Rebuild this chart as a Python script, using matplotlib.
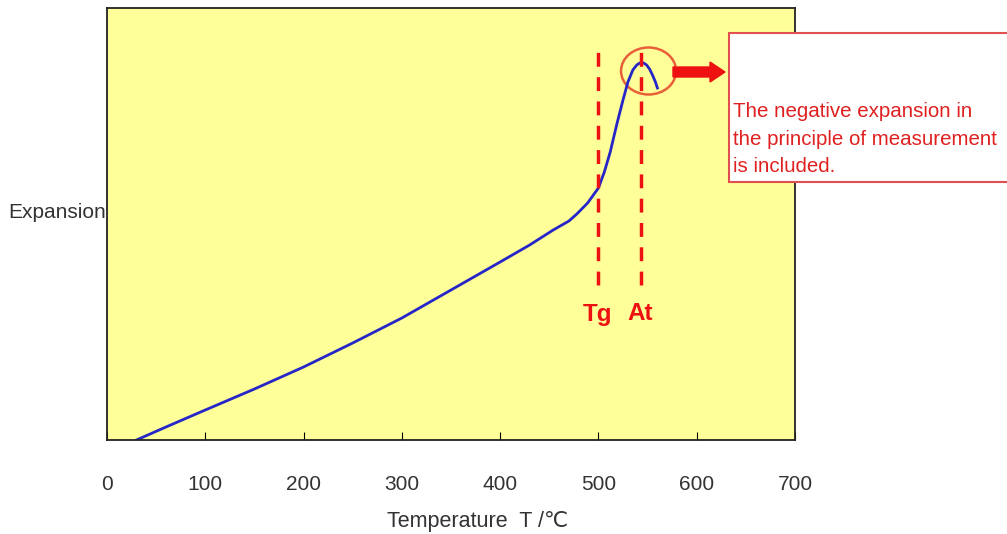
import matplotlib.pyplot as plt
import matplotlib.patches as mpatches

# curve (expansion in arbitrary units)
temp = [30, 60, 100, 150, 200, 250, 300, 350, 400, 430, 454, 470, 478, 489, 500,
        506, 512, 519, 525, 530, 535, 539, 542, 546, 549, 552, 555, 558, 560]
expansion = [0, 13, 30, 51, 73, 97, 122, 150, 178, 195, 210, 219, 226, 237, 252,
             268, 288, 317, 340, 358, 370, 375, 377, 377, 375, 371, 365, 358, 352]

tg = 500
at = 543
xticks = [0, 100, 200, 300, 400, 500, 600, 700]

plt.rcParams['font.family'] = ['Liberation Sans', 'DejaVu Sans']

fig = plt.figure(figsize=(10.07, 5.34), dpi=100)
ax = fig.add_axes([107/1007, 1-440/534, 688/1007, 432/534])
ax.set_facecolor('#FFFF99')

ax.plot(temp, expansion, color='#2626C8', lw=2)

# Tg / At markers
for t in [tg, at]:
    ax.plot([t, t], [155, 392], color='#EE1111', lw=2.5, dashes=(4, 3))
ax.text(tg - 1, 126, 'Tg', color='#EE1111', fontsize=17.5, fontweight='bold', ha='center', va='center')
ax.text(at - 1, 126, 'At', color='#EE1111', fontsize=17.5, fontweight='bold', ha='center', va='center')

ax.add_patch(mpatches.Ellipse((551, 369), 56, 47, fill=False, ec='#E8603A', lw=1.8))

ax.set_xlim(0, 700)
ax.set_ylim(0, 432)
ax.set_xticks(xticks)
ax.set_yticks([])
ax.tick_params(axis='x', direction='in', length=6, pad=25, labelsize=15, labelcolor='#333333')
for s in ax.spines.values():
    s.set_color('#222222')
    s.set_linewidth(1.3)

fig.text(478/1007, 1-522/534, 'Temperature  T /\u2103', fontsize=15.5, color='#333333',
         ha='center', va='center')
fig.text(8/1007, 1-213/534, 'Expansion', fontsize=15, color='#333333', va='center', ha='left')

# arrow and note box
fig.patches.append(mpatches.FancyArrow(673/1007, 1-72/534, 52/1007, 0, width=10/534,
                                       head_width=20/534, head_length=15/1007,
                                       length_includes_head=True, color='#EE1111',
                                       transform=fig.transFigure, figure=fig))
fig.patches.append(mpatches.Rectangle((729/1007, 1-182/534), 290/1007, 149/534,
                                      fc='white', ec='#E05050', lw=1.5,
                                      transform=fig.transFigure, figure=fig))
fig.text(733/1007, 1-102/534,
         'The negative expansion in\nthe principle of measurement\nis included.',
         fontsize=14.8, color='#E02020', va='top', ha='left', linespacing=1.58)

fig.savefig('out.png', dpi=100)
